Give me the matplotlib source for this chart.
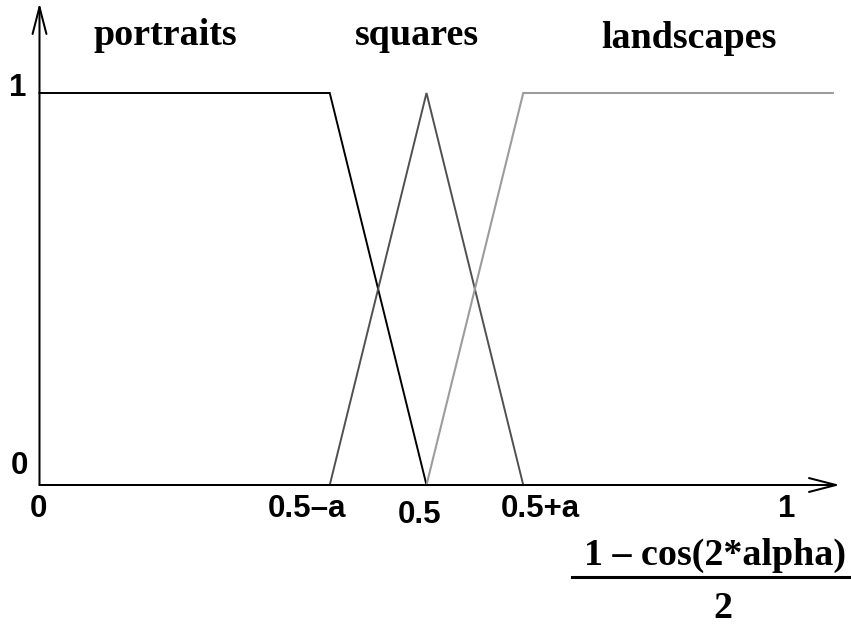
import matplotlib
matplotlib.use("Agg")
import matplotlib.pyplot as plt

# funciones de pertenencia sobre (1 - cos(2*alpha)) / 2
a = 0.125
x_fin = 1.025

portraits_x = [0, 0.5 - a, 0.5]
portraits_y = [1, 1, 0]
squares_x = [0.5 - a, 0.5, 0.5 + a]
squares_y = [0, 1, 0]
landscapes_x = [0.5, 0.5 + a, x_fin]
landscapes_y = [0, 1, 1]

nombres = ["portraits", "squares", "landscapes"]
etiquetas_x = ["0", "0.5\u2013a", "0.5", "0.5+a", "1"]
etiquetas_y = ["1", "0"]

ANCHO, ALTO = 851, 628

fig = plt.figure(figsize=(ANCHO / 100, ALTO / 100), dpi=100)
ax = fig.add_axes([0, 0, 1, 1])
# origen en el pixel (39.5, 485), x=0.5 a 387 px, y=1 a 392 px
ax.set_xlim(-39.5 / 774, (ANCHO - 39.5) / 774)
ax.set_ylim((485 - ALTO) / 392, 485 / 392)
ax.axis("off")


def px(x, y):
    return x / ANCHO, 1 - y / ALTO


# ejes con flecha abierta
flecha = dict(arrowstyle="->,head_length=19.4,head_width=5", lw=1.45,
              color="black", shrinkA=0, shrinkB=0, mutation_scale=1)
ax.annotate("", xy=(0, 1.2296), xytext=(0, 0), arrowprops=flecha)
ax.annotate("", xy=(1.0342, 0), xytext=(0, 0), arrowprops=flecha)

ax.plot(portraits_x, portraits_y, color="black", lw=1.4, solid_joinstyle="miter")
ax.plot(squares_x, squares_y, color="#505050", lw=1.4, solid_joinstyle="miter")
ax.plot(landscapes_x, landscapes_y, color="#9c9c9c", lw=1.5, solid_joinstyle="miter")

serif = dict(family="Liberation Serif", weight="bold", fontsize=27.4)
sans = dict(family="Liberation Sans", weight="bold", fontsize=22.5)

for nombre, (cx, by) in zip(nombres, [(165, 45), (417, 45), (689, 48)]):
    fig.text(*px(cx, by), nombre, ha="center", va="baseline", **serif)

for etq, (cx, cy) in zip(etiquetas_x, [(38, 509), (307, 509), (420, 515),
                                       (540, 509), (787, 509)]):
    fig.text(*px(cx, cy), etq, ha="center", va="center", **sans)

for etq, (cx, cy) in zip(etiquetas_y, [(18, 88), (19, 466)]):
    fig.text(*px(cx, cy), etq, ha="center", va="center", **sans)

# nombre del eje x como fraccion
fig.text(*px(714.5, 565), "1 \u2013 cos(2*alpha)", ha="center", va="baseline", **serif)
fig.text(*px(723, 609), "2", ha="center", va="center", **serif)
fig.add_artist(plt.Line2D([572 / ANCHO, 850 / ANCHO], [1 - 577 / ALTO] * 2,
                          color="black", lw=2.2))

fig.savefig("out.png", dpi=100)
